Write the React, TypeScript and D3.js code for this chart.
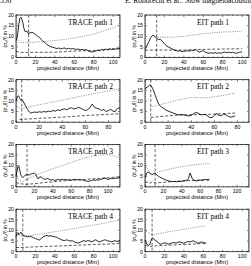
import React from 'react';
import * as d3 from 'd3';

type Pt = [number, number];

// relative intensity variation (solid), upper level (dotted), noise level (dashed)
const trace1Signal: Pt[] = [[0,8],[1,9],[2,12],[3,16],[4,18.5],[5,19],[6,18],[7,16.5],[8,14],[9,12.5],[10,12],[11,12.5],[12,12],[13,11],[14,11.5],[15,12],[16,11.5],[17,12],[18,11.5],[19,11],[20,11],[22,10],[24,9.5],[26,8.5],[28,7.5],[30,7],[32,6],[34,5.5],[36,5],[38,4.8],[40,4.5],[42,4.2],[44,4.5],[46,4],[48,4.3],[50,4.5],[52,4],[54,4.3],[56,4],[58,4.2],[60,4],[62,3.8],[64,4],[66,3.6],[68,3.8],[70,3.5],[72,3.8],[74,3.2],[76,2.8],[78,2.6],[80,2.8],[82,3],[84,3.5],[86,3.2],[88,3.8],[90,3.5],[92,4],[94,3.6],[96,4.2],[98,3.8],[100,4.2],[102,3.8],[104,4.5],[106,4.2],[107,4.5]];
const trace1Upper: Pt[] = [[0,9],[2,8],[4,7.2],[6,7],[10,7],[15,7],[20,7.2],[30,7.6],[40,8],[50,8.5],[60,9.2],[70,10],[80,11],[90,12.5],[100,14],[107,15.4]];
const trace1Noise: Pt[] = [[0,3],[4,2.4],[20,2.4],[40,2.5],[60,3],[80,3.3],[100,3.8],[107,4]];

const eit1Signal: Pt[] = [[0,4],[2,5.5],[4,7.5],[6,9.5],[8,10.5],[10,10],[12,9],[14,8.5],[16,8.5],[18,7.5],[20,6.5],[22,5.5],[24,5],[26,4.5],[28,4],[30,3.5],[32,3.2],[34,3],[36,3.2],[38,2.8],[40,3],[42,3],[44,3.2],[46,3],[48,3.5],[50,3.2],[52,3.8],[54,3],[56,2.5],[58,3],[60,3.2],[62,2.5],[64,2.2],[66,2],[68,2.2],[70,2],[72,2.3],[74,2],[76,2.2],[78,2],[80,2.3],[82,2.6],[84,2.3],[86,2.5],[88,2.2],[90,2.5],[92,2.2],[94,2],[96,2.3],[98,2.6],[100,2.5]];
const eit1Upper: Pt[] = [[10,9.6],[20,9.5],[30,9.6],[40,10],[50,10.6],[60,11.2],[70,11.6],[80,12],[90,12.1],[100,12.4]];
const eit1Noise: Pt[] = [[0,3.5],[20,3.5],[40,3.5],[60,3.8],[80,4],[100,4.1]];

const trace2Signal: Pt[] = [[0,10],[1,11.5],[2,12.5],[3,11.5],[4,10.5],[5,10.8],[6,10],[7,9],[8,8],[9,7],[10,6],[11,5.2],[12,4.6],[13,4.3],[14,4.5],[16,4.8],[18,4.6],[20,4.9],[22,4.7],[24,5],[26,4.8],[28,5.2],[30,5],[32,5.5],[34,5.2],[36,5.8],[38,5.5],[40,6],[42,6.3],[44,5.8],[46,6.5],[48,6.8],[50,6.2],[52,6.5],[54,7],[56,6.6],[58,6],[60,5.5],[62,5.8],[64,7],[66,8.5],[68,7],[70,6.5],[72,6.2],[74,5.5],[76,6],[78,5],[80,5.5],[82,6],[84,5.2],[86,5],[87,6],[88,6.5],[90,6.8]];
const trace2Upper: Pt[] = [[0,7.5],[2,7],[4,6.5],[10,7],[20,8.2],[30,9.3],[40,10.4],[50,11.5],[60,12.6],[70,13.7],[80,14.8],[90,15.8]];
const trace2Noise: Pt[] = [[3,1.3],[20,1.8],[40,2.4],[60,3.1],[80,3.7],[90,4]];

const eit2Signal: Pt[] = [[0,15.8],[2,16.5],[4,17.5],[5,17.3],[6,16.5],[7,15.5],[8,14],[9,12.5],[10,11],[11,9.5],[12,8.5],[13,7.8],[14,7.2],[16,6.5],[18,5.8],[20,5.2],[22,4.8],[24,4.4],[26,4],[28,3.6],[30,3.5],[32,3.6],[34,3.4],[36,3.2],[38,2.9],[40,3.3],[42,4],[44,4.6],[46,4.2],[48,3.6],[50,3.5],[52,3.7],[54,3],[56,2.2],[58,2.2],[60,3.2],[62,4],[64,3.3],[66,3],[68,3.8],[70,3.5],[72,2.8],[74,2.4],[76,2.6],[78,3]];
const eit2Upper: Pt[] = [[5,7.2],[10,7.8],[20,9.2],[30,10.6],[38,11.5],[45,11.6],[55,11.5],[60,12],[70,12.8],[78,13.8]];
const eit2Noise: Pt[] = [[5,2.2],[10,2.5],[20,3],[30,3.4],[40,3.5],[50,3.6],[60,3.8],[70,4.1],[78,4.3]];

const trace3Signal: Pt[] = [[0,5],[1,7],[2,9.5],[3,10],[4,8],[5,6],[6,5],[7,4.5],[8,4.6],[9,5],[10,5.5],[12,5.8],[14,5.5],[16,6],[18,6.3],[20,6.5],[21,6.2],[22,5.5],[23,4.5],[24,3.8],[25,4.2],[26,4.8],[28,4.5],[30,3.8],[32,3.5],[34,4],[36,3.6],[38,3.2],[40,3.5],[42,3],[44,3.3],[46,3.5],[48,3.2],[50,3.6],[52,3.3],[54,3.6],[56,3.2],[58,3.5],[60,3.1],[62,3.4],[64,3.6],[66,3.3],[68,3.5],[70,3.2],[72,3.4],[74,3],[76,2.8],[78,2.6],[80,2.8],[82,3],[84,3.3],[86,3.1],[88,3.4],[90,3.2],[92,3.5],[94,3.8],[96,4.2],[98,3.9],[100,3.5],[102,3.8],[104,4],[106,3.8],[108,4.2],[110,4],[113,4.5]];
const trace3Upper: Pt[] = [[0,5.5],[2,4],[4,3],[6,2.5],[8,2.6],[10,3.2],[15,4.2],[20,5.3],[30,7],[40,8.5],[50,10],[60,11.5],[70,13],[80,14.2],[90,15],[100,15.2],[106,14.8],[110,14],[113,13]];
const trace3Noise: Pt[] = [[0,2],[5,1.5],[10,1.2],[20,1.5],[30,2],[40,2.4],[50,2.8],[60,3.1],[70,3.4],[80,3.7],[90,4],[100,4.3],[113,4.8]];

const eit3Signal: Pt[] = [[0,4.5],[1,5.5],[2,6.5],[3,7],[4,6.8],[6,6.2],[8,5.8],[9,6],[10,6.4],[11,6.5],[12,6],[14,5.2],[16,4.6],[18,4.2],[20,3.8],[22,3.4],[24,3],[26,2.8],[28,2.6],[30,2.5],[32,2.6],[34,2.4],[36,2.6],[38,2.5],[40,2.7],[42,2.8],[44,3],[46,3.2],[47,3.8],[48,5],[49,6.5],[50,5.5],[51,4.2],[52,3.5],[54,3],[56,2.8],[58,3],[60,3.2],[62,3],[64,3.3],[66,3.5],[68,3.2],[70,3.4]];
const eit3Upper: Pt[] = [[0,10],[2,8.8],[4,7.6],[6,6.6],[8,6.2],[10,6.4],[15,7],[20,7.6],[25,8.2],[30,8.7],[40,9.5],[50,10.2],[60,10.7],[70,11]];
const eit3Noise: Pt[] = [[0,2.5],[3,2],[6,1.8],[8,2.5],[10,2],[12,1.8],[15,2],[20,2.2],[30,2.5],[40,2.8],[50,3],[60,3.3],[70,3.5]];

const trace4Signal: Pt[] = [[0,7],[1,8.5],[2,9],[3,8],[4,8.6],[5,9.2],[6,8.4],[7,7.8],[8,7.5],[10,7.3],[12,7],[14,7.2],[16,7],[18,6.6],[20,6.2],[22,5.8],[24,5.5],[26,6.2],[28,7],[30,7.4],[32,7.6],[34,7.3],[36,7.5],[38,7.2],[40,7],[42,6.8],[44,6.2],[46,5.8],[48,5.4],[50,5.2],[52,5.6],[54,5.3],[56,5],[58,5.2],[60,4.6],[62,4.3],[64,4.1],[66,4.4],[68,4.9],[70,5.2],[72,4.8],[74,5.3],[76,5],[78,4.6],[80,5.2],[82,5.6],[84,5],[86,4.6],[88,5],[90,5.4],[92,5.6],[94,5.1],[96,5],[98,4.6],[100,4.9],[102,5.2],[104,4.8],[107,5.2]];
const trace4Upper: Pt[] = [[0,8.2],[3,7.8],[6,7.3],[10,7.3],[20,8],[30,8.7],[40,9.4],[50,10.1],[60,10.9],[70,11.7],[80,12.5],[90,13.4],[100,14.3],[107,15]];
const trace4Noise: Pt[] = [[0,2],[7,2],[20,2.3],[40,2.6],[60,3],[80,3.4],[100,3.7],[107,3.9]];

const eit4Signal: Pt[] = [[0,5.5],[1,4.5],[2,3.5],[3,3.2],[4,3],[5,3.5],[6,5],[7,6.2],[8,6.5],[9,6],[10,5.5],[12,5],[14,4],[16,3.5],[18,3.8],[20,4.2],[22,4],[24,3.6],[26,3.8],[28,4.2],[30,4.3],[32,4],[34,4.5],[36,4.6],[38,4.2],[40,4],[42,4.4],[44,4.8],[46,4.6],[48,4.9],[50,5.1],[52,4.6],[54,4],[56,4.2],[58,4.6],[60,4.3],[62,4],[63,4.1]];
const eit4Upper: Pt[] = [[0,10],[3,9],[6,8.2],[8,8],[15,8.6],[20,9],[30,9.8],[40,10.6],[50,11.3],[60,12],[63,12.2]];
const eit4Noise: Pt[] = [[0,3],[3,2.6],[6,2.5],[10,2.7],[20,3],[30,3.2],[40,3.4],[50,3.6],[60,3.9],[63,4]];

const titles = ['TRACE path 1', 'EIT path 1', 'TRACE path 2', 'EIT path 2', 'TRACE path 3', 'EIT path 3', 'TRACE path 4', 'EIT path 4'];
const xMaxes = [107, 107, 90, 90, 113, 113, 107, 107];
const footpoints = [13, 12, 5, 5, 12, 11, 7, 7.3];
const yTicks = [0, 5, 10, 15, 20];

const signals = [trace1Signal, eit1Signal, trace2Signal, eit2Signal, trace3Signal, eit3Signal, trace4Signal, eit4Signal];
const uppers = [trace1Upper, eit1Upper, trace2Upper, eit2Upper, trace3Upper, eit3Upper, trace4Upper, eit4Upper];
const noises = [trace1Noise, eit1Noise, trace2Noise, eit2Noise, trace3Noise, eit3Noise, trace4Noise, eit4Noise];

const COL_LEFT = [16, 145];
const ROW_TOP = [15, 79.7, 144.4, 209.2];
const BOX_W = 104;
const BOX_H = 42.5;
const SANS = 'Liberation Sans, sans-serif';
const SERIF = 'Liberation Serif, serif';

function Panel({ i }: { i: number }) {
  const x0 = COL_LEFT[i % 2];
  const y0 = ROW_TOP[Math.floor(i / 2)];
  const xMax = xMaxes[i];
  const x = d3.scaleLinear().domain([0, xMax]).range([x0, x0 + BOX_W]);
  const y = d3.scaleLinear().domain([0, 20]).range([y0 + BOX_H, y0]);
  const line = d3.line<Pt>().x(d => x(d[0])).y(d => y(d[1]));
  const xMajor = d3.range(0, xMax + 0.01, 20);
  const xMinor = d3.range(0, xMax + 0.01, 5).filter(v => v % 20 !== 0);
  const yMinor = d3.range(0, 20, 1).filter(v => v % 5 !== 0);
  const bottom = y0 + BOX_H;
  const tick = { stroke: '#000', strokeWidth: 0.5 };

  return (
    <g>
      <rect x={x0} y={y0} width={BOX_W} height={BOX_H} fill="none" stroke="#000" strokeWidth={0.7} />
      {xMajor.map(v => (
        <g key={'xM' + v}>
          <line x1={x(v)} x2={x(v)} y1={bottom} y2={bottom - 2} {...tick} />
          <line x1={x(v)} x2={x(v)} y1={y0} y2={y0 + 2} {...tick} />
          <text x={x(v)} y={bottom + 6.5} fontSize={5.2} fontFamily={SANS} textAnchor="middle">{v}</text>
        </g>
      ))}
      {xMinor.map(v => (
        <g key={'xm' + v}>
          <line x1={x(v)} x2={x(v)} y1={bottom} y2={bottom - 1} {...tick} />
          <line x1={x(v)} x2={x(v)} y1={y0} y2={y0 + 1} {...tick} />
        </g>
      ))}
      {yTicks.map(v => (
        <g key={'yM' + v}>
          <line x1={x0} x2={x0 + 2} y1={y(v)} y2={y(v)} {...tick} />
          <line x1={x0 + BOX_W} x2={x0 + BOX_W - 2} y1={y(v)} y2={y(v)} {...tick} />
          <text x={x0 - 2} y={y(v) + 1.8} fontSize={5.2} fontFamily={SANS} textAnchor="end">{v}</text>
        </g>
      ))}
      {yMinor.map(v => (
        <g key={'ym' + v}>
          <line x1={x0} x2={x0 + 1} y1={y(v)} y2={y(v)} {...tick} />
          <line x1={x0 + BOX_W} x2={x0 + BOX_W - 1} y1={y(v)} y2={y(v)} {...tick} />
        </g>
      ))}
      <line x1={x(footpoints[i])} x2={x(footpoints[i])} y1={y0} y2={bottom}
        stroke="#000" strokeWidth={0.6} strokeDasharray="3 1.8" />
      <path d={line(uppers[i]) ?? ''} fill="none" stroke="#000" strokeWidth={0.6} strokeDasharray="0.6 1.2" />
      <path d={line(noises[i]) ?? ''} fill="none" stroke="#000" strokeWidth={0.65} strokeDasharray="3 1.8" />
      <path d={line(signals[i]) ?? ''} fill="none" stroke="#000" strokeWidth={0.85} strokeLinejoin="round" />
      <text x={x0 + 52} y={y0 + 9.5} fontSize={7.5} fontFamily={SERIF}>{titles[i]}</text>
      <text transform={`translate(${x0 - 9.5},${y0 + BOX_H / 2}) rotate(-90)`} fontSize={5} fontFamily={SANS} textAnchor="middle">
        (σ<tspan fontSize={3.5} dy={1}>n</tspan><tspan dy={-1}>/I) in %</tspan>
      </text>
      <text x={x0 + BOX_W / 2} y={bottom + 12.5} fontSize={5.8} fontFamily={SANS} textAnchor="middle">projected distance (Mm)</text>
    </g>
  );
}

export default function App() {
  return (
    <div>
      <style>{'body{margin:0}'}</style>
      <svg width={251} height={266} style={{ display: 'block', background: '#fff' }}>
        {/* running page header, clipped at the top edge */}
        <text x={0} y={2.5} fontSize={7.5} fontFamily={SERIF}>556</text>
        <text x={125} y={2.5} fontSize={7.5} fontFamily={SERIF}>E. Robbrecht et al.: Slow magnetoacoustic waves</text>
        {titles.map((_, i) => <Panel key={i} i={i} />)}
      </svg>
    </div>
  );
}
